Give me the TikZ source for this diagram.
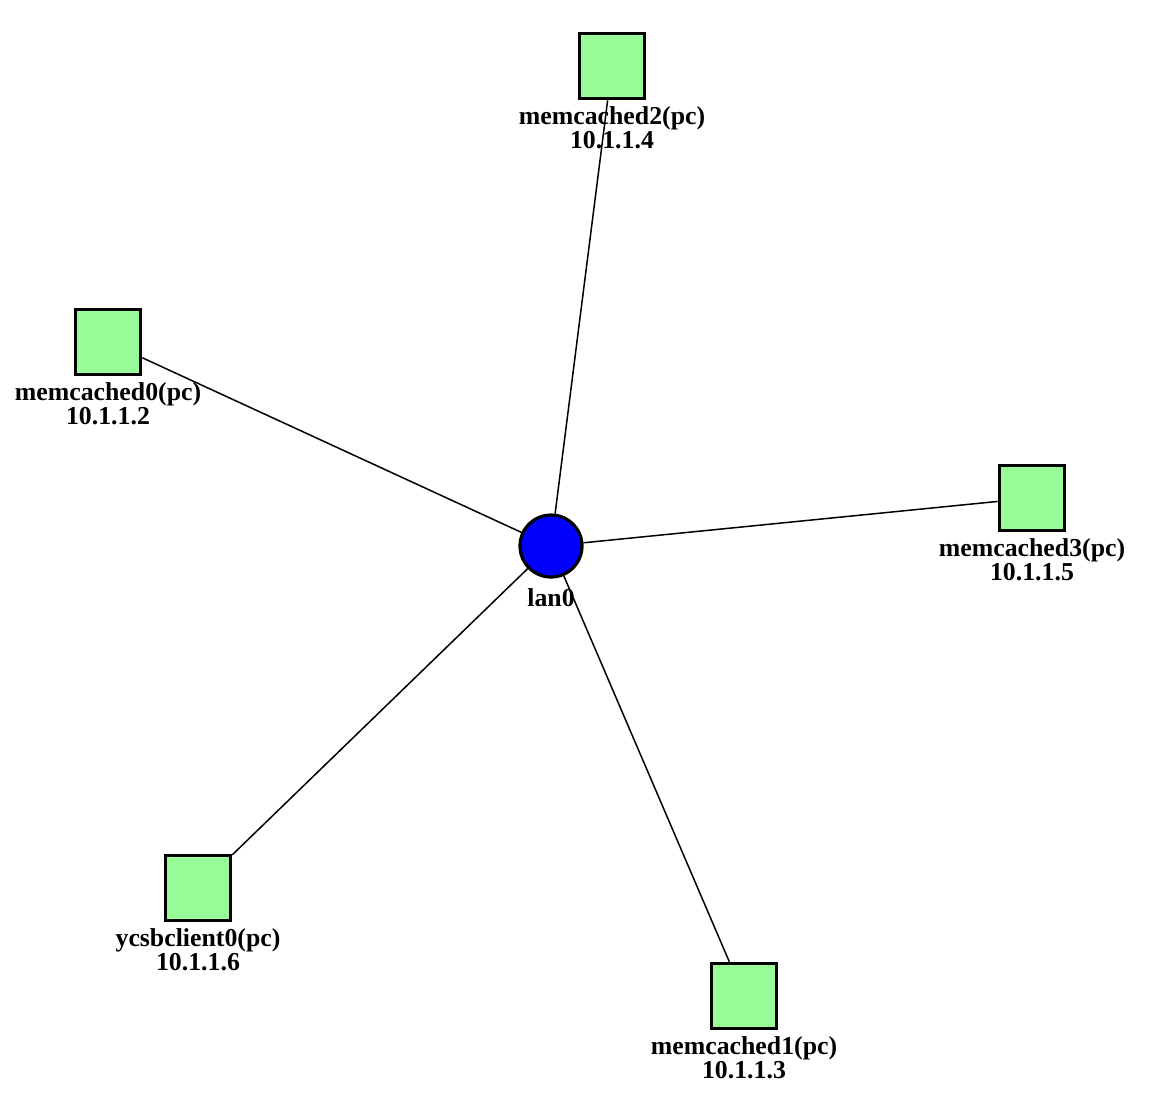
\documentclass[tikz,border=0pt]{standalone}
\usepackage{fontspec}
\setmainfont{Liberation Serif}
\usetikzlibrary{positioning}
\definecolor{pcgreen}{RGB}{152,251,152}
\tikzset{
  pc/.style={draw=black, line width=1.8pt, fill=pcgreen, rectangle, minimum size=32.5pt, inner sep=0pt},
  lan/.style={draw=black, line width=1.6pt, fill=blue, circle, minimum size=31pt, inner sep=0pt},
  lbl/.style={inner sep=0pt, align=center, font=\fontsize{12.9}{11.8}\selectfont\bfseries},
  link/.style={black, line width=0.75pt}
}
\begin{document}
\begin{tikzpicture}[x=0.5pt,y=0.5pt]
\useasboundingbox (0,0) rectangle (1150,-1094);
\node [lan] (lan0) at (551,-546) {};
\node [lbl, below=5pt of lan0] (lan0l) {lan0};
\node [pc] (mc2) at (612,-66) {};
\node [lbl, below=3pt of mc2] (mc2l) {memcached2(pc)\\10.1.1.4};
\node [pc] (mc0) at (108,-342) {};
\node [lbl, below=3pt of mc0] (mc0l) {memcached0(pc)\\10.1.1.2};
\node [pc] (mc3) at (1032,-498) {};
\node [lbl, below=3pt of mc3] (mc3l) {memcached3(pc)\\10.1.1.5};
\node [pc] (ycsb0) at (198,-888) {};
\node [lbl, below=3pt of ycsb0] (ycsb0l) {ycsbclient0(pc)\\10.1.1.6};
\node [pc] (mc1) at (744,-996) {};
\node [lbl, below=3pt of mc1] (mc1l) {memcached1(pc)\\10.1.1.3};
\draw [link] (lan0) -- (mc2);
\draw [link] (lan0) -- (mc0);
\draw [link] (lan0) -- (mc3);
\draw [link] (lan0) -- (ycsb0);
\draw [link] (lan0) -- (mc1);
\end{tikzpicture}
\end{document}
